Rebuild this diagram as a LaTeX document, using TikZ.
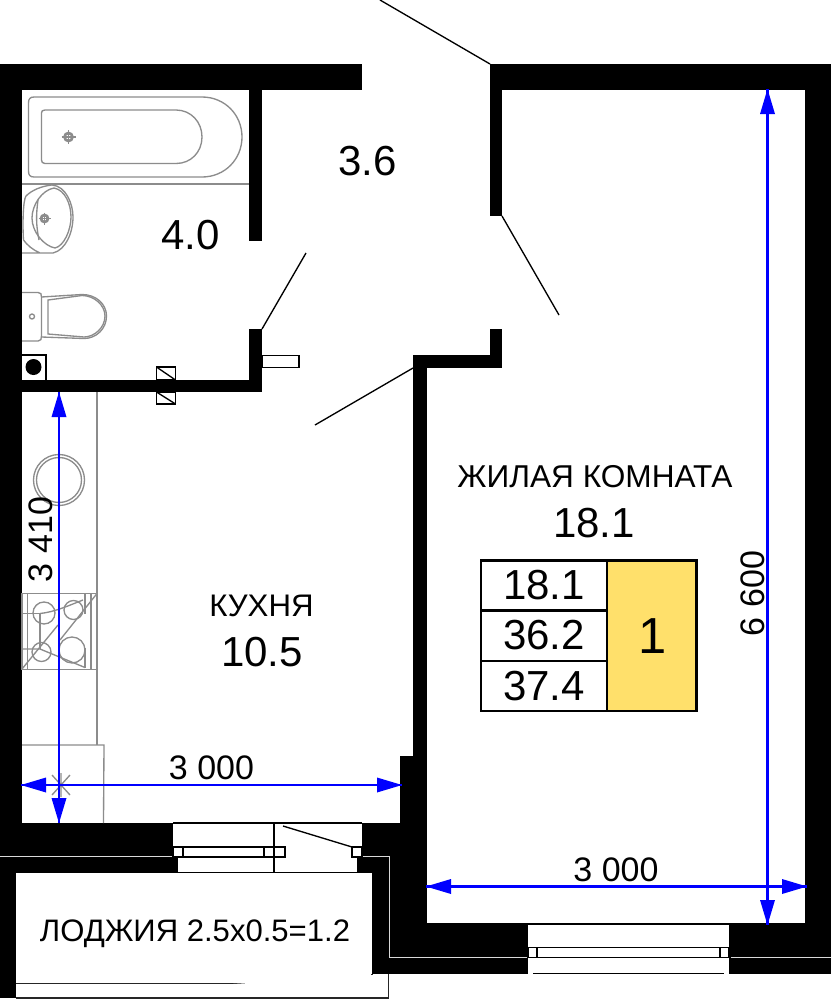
\documentclass[tikz,border=0pt]{standalone}
\usepackage{fontspec}
\setmainfont{Liberation Sans}
\tikzset{
  wall/.style={fill=black,draw=none},
  fix/.style={draw=black!45,line width=1pt,fill=none},
  thin line/.style={draw=black,line width=1pt},
  frame/.style={draw=black!85,line width=1pt,fill=white},
  seam/.style={draw=black!15,line width=0.75pt},
  dim/.style={draw=blue,line width=1.7pt},
  tip/.style={fill=blue,draw=none},
  lbl/.style={inner sep=0pt,text=black},
  tab/.style={draw=black,line width=1.6pt}
}
\newcommand{\fsz}[1]{\fontsize{#1}{#1}\selectfont}
\begin{document}
\begin{tikzpicture}[x=0.75pt,y=-0.75pt]
\useasboundingbox (0,0) rectangle (831,1000);
\fill[white] (0,0) rectangle (831,1000);
% walls
\fill[wall] (0,64) rectangle (362,90);
\fill[wall] (0,64) rectangle (22,873);
\fill[wall] (249,90) rectangle (262,241);
\fill[wall] (249,329) rectangle (262,392);
\fill[wall] (0,380) rectangle (262,392);
\fill[wall] (490,64) rectangle (831,90);
\fill[wall] (490,64) rectangle (502,216);
\fill[wall] (490,329) rectangle (502,368);
\fill[wall] (413,355) rectangle (502,368);
\fill[wall] (413,355) rectangle (427,923);
\fill[wall] (400,756) rectangle (427,823);
\fill[wall] (805,64) rectangle (831,974);
\fill[wall] (0,823) rectangle (173,857);
\fill[wall] (0,857) rectangle (178,873);
\fill[wall] (0,873) rectangle (16,998);
\fill[wall] (362,823) rectangle (427,857);
\fill[wall] (357,857) rectangle (427,873);
\fill[wall] (372,873) rectangle (427,974);
\fill[wall] (388,923) rectangle (528,974);
\fill[wall] (729,923) rectangle (831,974);
% seams
\draw[seam] (0,856.5) -- (172,856.5);
\draw[seam] (363,856) -- (389,856) -- (389,957) -- (527,957);
\draw[seam] (731,957) -- (831,957);
% loggia frame
\fill[white] (16,873) rectangle (372,983);
\draw[frame] (16,983.5) -- (372,983.5) -- (372,974);
\draw[frame] (388.5,974) -- (388.5,998) -- (16,998);
% kitchen window
\draw[thin line] (173,823) -- (362,823);
\draw[thin line] (173,847) rectangle (285,857);
\draw[thin line] (183,847) -- (183,857);
\draw[thin line] (264,847) -- (264,857);
\draw[thin line] (274,823) -- (274,872);
\draw[thin line] (352,847) rectangle (362,857);
\draw[thin line] (178,872.5) -- (357,872.5);
\draw[thin line] (283,826) -- (352,847);
% room window
\draw[thin line] (528,924) -- (729,924);
\draw[thin line] (528,947.5) rectangle (729,957.5);
\draw[thin line] (537,947.5) -- (537,957.5);
\draw[thin line] (720,947.5) -- (720,957.5);
\draw[thin line] (533,973.5) -- (724,973.5);
% doors
\coordinate (d1a) at (380,0); \coordinate (d1b) at (490,64);
\coordinate (d2a) at (502,216); \coordinate (d2b) at (559,315);
\coordinate (d3a) at (262,329); \coordinate (d3b) at (306,253);
\coordinate (d4a) at (315,425); \coordinate (d4b) at (413,368);
\draw[thin line] (d1a) -- (d1b);
\draw[thin line] (d2a) -- (d2b);
\draw[thin line] (d3a) -- (d3b);
\draw[thin line] (d4a) -- (d4b);
% vent
\draw[thin line] (262,355.5) rectangle (299,367.5);
\draw[thin line] (156.5,367) rectangle (175.5,380);
\draw[thin line] (156.5,367) -- (175.5,380);
\draw[thin line] (156.5,392) rectangle (175.5,404);
\draw[thin line] (156.5,392) -- (175.5,404);
\draw[thin line] (22,355) -- (46,355) -- (46,380);
\fill[black] (33.5,367) circle[radius=8*0.75pt];
% bath
\draw[fix] (22,184) -- (249,184);
\draw[fix] (34,97) -- (202,97) .. controls (225,97) and (242,115) .. (242,137) .. controls (242,159) and (225,177) .. (202,177) -- (34,177) .. controls (30,177) and (28.5,175) .. (28.5,171) -- (28.5,103) .. controls (28.5,99) and (30,97) .. (34,97) -- cycle;
\draw[fix] (45,110) -- (176,110) .. controls (191,110) and (202,122) .. (202,137) .. controls (202,152) and (191,163.5) .. (176,163.5) -- (45,163.5) .. controls (42.5,163.5) and (41.5,162) .. (41.5,160) -- (41.5,113) .. controls (41.5,111) and (42.5,110) .. (45,110) -- cycle;
\draw[fix,line width=2pt] (68.5,137) circle[radius=4*0.75pt];
\draw[fix] (61.5,137) -- (75.5,137) (68.5,130) -- (68.5,144);
% sink
\draw[fix] (22,253) -- (53,253) .. controls (66,250) and (73,232) .. (73,217) .. controls (73,204) and (66,186) .. (52,185) .. controls (42,186) and (32,190) .. (26,196) .. controls (23,200) and (22.5,225) .. (23.5,240) .. controls (27,245) and (33,250) .. (40,253);
\draw[fix] (54,188) .. controls (42,190) and (32,205) .. (32,218) .. controls (32,232) and (44,246) .. (55,248) .. controls (64,246) and (71,230) .. (71,217) .. controls (71,204) and (65,190) .. (54,188) -- cycle;
\draw[fix] (38,200) .. controls (36,215) and (36,225) .. (39,240);
\draw[fix,line width=2pt] (44.5,218.5) circle[radius=3.5*0.75pt];
\draw[fix] (38.5,218.5) -- (50.5,218.5) (44.5,212.5) -- (44.5,224.5);
% toilet
\draw[fix] (22,292.5) -- (38,292.5) .. controls (41,292.5) and (41.5,294) .. (41.5,297) -- (41.5,336) .. controls (41.5,339) and (41,341) .. (38,341) -- (22,341);
\draw[fix] (41.5,297) -- (82,294.5) .. controls (96,294.5) and (106.5,304) .. (106.5,316) .. controls (106.5,329) and (96,338.5) .. (84,338.5) -- (41.5,337);
\draw[fix] (48,300) -- (82,295.5) .. controls (94,295.5) and (105,305) .. (105,316) .. controls (105,328) and (94,337) .. (84,337) -- (48,334) -- cycle;
\draw[fix] (32,316.5) circle[radius=2.5*0.75pt];
% kitchen
\draw[fix] (97,392) -- (97,745);
\draw[fix] (22,745) -- (104,745) -- (103.5,823);
\draw[fix] (59,480) circle[radius=25.5*0.75pt];
\draw[fix] (59,480) circle[radius=22.5*0.75pt];
\draw[fix] (22,593.5) rectangle (97,669.5);
\draw[fix] (27.5,593.5) -- (27.5,669.5);
\draw[fix] (91,593.5) -- (91,669.5);
\draw[fix] (85,593.5) -- (85,614);
\draw[fix] (85,648) -- (85,668);
\draw[fix] (44,613) circle[radius=11*0.75pt];
\draw[fix] (73.5,610) circle[radius=9.5*0.75pt];
\draw[fix] (41.5,652) circle[radius=9.5*0.75pt];
\draw[fix] (72,650) circle[radius=13*0.75pt];
\draw[fix] (22,669) -- (58,625);
\draw[fix] (60,640) -- (97,593.5);
\draw[fix] (22,613.5) -- (40,613.5) -- (40,649);
\draw[fix] (40,613.5) .. controls (55,612) and (70,605) .. (83,600);
\draw[fix] (22,649) -- (40,649) -- (85,667.5);
\draw[fix] (52,775) -- (70,795) (70,775) -- (52,795) (61,773) -- (61,797);
% dimensions
\coordinate (v1a) at (59,392); \coordinate (v1b) at (59,823);
\coordinate (h1a) at (21,785); \coordinate (h1b) at (402,785);
\coordinate (v2a) at (767.5,89); \coordinate (v2b) at (767.5,925);
\coordinate (h2a) at (426,886.5); \coordinate (h2b) at (807,886.5);
\draw[dim] (v1a) -- (v1b);
\draw[dim] (h1a) -- (h1b);
\draw[dim] (v2a) -- (v2b);
\draw[dim] (h2a) -- (h2b);
\fill[tip] (v1a) -- ++(-7.5,25) -- ++(15,0) -- cycle;
\fill[tip] (v1b) -- ++(-7.5,-25) -- ++(15,0) -- cycle;
\fill[tip] (h1a) -- ++(25,-7.5) -- ++(0,15) -- cycle;
\fill[tip] (h1b) -- ++(-25,-7.5) -- ++(0,15) -- cycle;
\fill[tip] (v2a) -- ++(-7.5,25) -- ++(15,0) -- cycle;
\fill[tip] (v2b) -- ++(-7.5,-25) -- ++(15,0) -- cycle;
\fill[tip] (h2a) -- ++(25,-7.5) -- ++(0,15) -- cycle;
\fill[tip] (h2b) -- ++(-25,-7.5) -- ++(0,15) -- cycle;
% table
\fill[white] (481,560) rectangle (607,711);
\fill[fill={rgb,255:red,255;green,224;blue,107}] (607,560) rectangle (696.5,711);
\draw[tab] (481,560.5) rectangle (696.5,711);
\draw[tab] (607,560.5) -- (607,711);
\draw[tab] (481,610.5) -- (607,610.5);
\draw[tab] (481,661) -- (607,661);
% labels
\node[lbl,font=\fsz{31.5}] (t36) at (367.5,161) {3.6};
\node[lbl,font=\fsz{31.5}] (t40) at (190.5,235) {4.0};
\node[lbl,font=\fsz{23.4}] (kuh) at (261.5,606) {КУХНЯ};
\node[lbl,font=\fsz{31.5}] (t105) at (262,652) {10.5};
\node[lbl,font=\fsz{23.7}] (zhk) at (595,477) {ЖИЛАЯ КОМНАТА};
\node[lbl,font=\fsz{31.5}] (t181) at (594,523) {18.1};
\node[lbl,font=\fsz{31.5}] (c1) at (544,585) {18.1};
\node[lbl,font=\fsz{31.5}] (c2) at (544,635) {36.2};
\node[lbl,font=\fsz{31.5}] (c3) at (544,686) {37.4};
\node[lbl,font=\fsz{38}] (c4) at (653,636) {1};
\node[lbl,font=\fsz{25.5}] (d1) at (211.5,768) {3 000};
\node[lbl,font=\fsz{25.5}] (d2) at (616,869.5) {3 000};
\node[lbl,font=\fsz{25.5},rotate=90] (d3) at (41,539.5) {3 410};
\node[lbl,font=\fsz{25.5},rotate=90] (d4) at (753,593.5) {6 600};
\node[lbl,font=\fsz{23.3}] (log) at (195,934) {ЛОДЖИЯ 2.5х0.5=1.2};
\end{tikzpicture}
\end{document}
